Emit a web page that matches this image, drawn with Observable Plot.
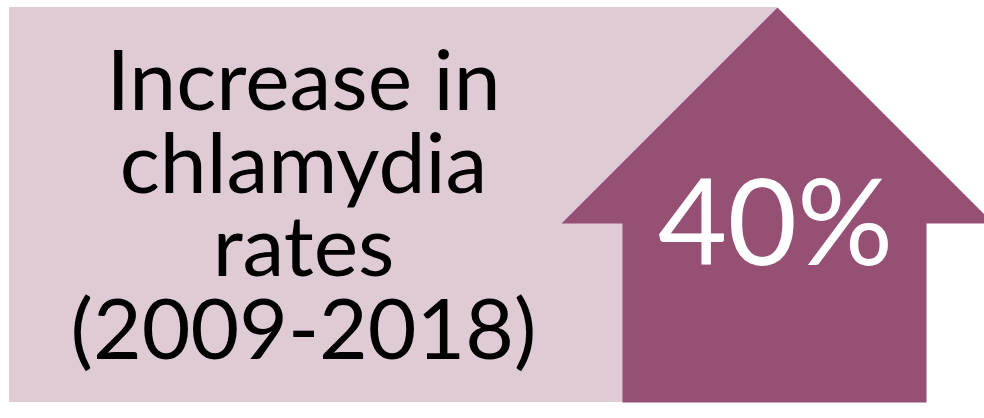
<!DOCTYPE html>
<html>
<head>
<meta charset="utf-8">
<script src="https://cdn.jsdelivr.net/npm/d3@7"></script>
<script src="https://cdn.jsdelivr.net/npm/@observablehq/plot@0.6"></script>
<style>
  html, body { margin: 0; padding: 0; background: #ffffff; }
  #chart svg { display: block; }
</style>
</head>
<body>
<div id="chart"></div>
<script>
// ---- data ----
const labelLines = ["Increase in", "chlamydia", "rates", "(2009-2018)"];
const increasePercent = 40;
const periodStart = 2009;
const periodEnd = 2018;

// ---- layout (pixels) ----
const W = 984, H = 418;
const panel = {x1: 9, x2: 777, y1: 7, y2: 402};
const arrow = {tipX: 777, tipY: 7, headY: 223, headHalf: 216, stemX1: 622, stemX2: 926, bottomY: 402};
const arrowPts = [
  [arrow.tipX, arrow.tipY],
  [arrow.tipX + arrow.headHalf, arrow.headY],
  [arrow.stemX2, arrow.headY],
  [arrow.stemX2, arrow.bottomY],
  [arrow.stemX1, arrow.bottomY],
  [arrow.stemX1, arrow.headY],
  [arrow.tipX - arrow.headHalf, arrow.headY],
  [arrow.tipX, arrow.tipY]
];
const textX = 303, firstBaseline = 109, lineStep = 83.3, labelSize = 84;

const chart = Plot.plot({
  width: W,
  height: H,
  margin: 0,
  x: {domain: [0, W], range: [0, W], axis: null},
  y: {domain: [0, H], range: [0, H], axis: null},
  style: {fontFamily: "Lato, 'Open Sans', sans-serif", background: "#ffffff"},
  marks: [
    Plot.rect([panel], {x1: "x1", x2: "x2", y1: "y1", y2: "y2", fill: "#dfcbd6"}),
    Plot.line(arrowPts, {x: d => d[0], y: d => d[1], fill: "#955073", stroke: "none", curve: "linear"}),
    Plot.text(labelLines, {
      x: () => textX,
      y: (d, i) => firstBaseline + i * lineStep,
      text: d => d,
      lineAnchor: "bottom",
      textAnchor: "middle",
      fontSize: labelSize,
      fill: "#000000",
      fontFamily: "Lato"
    }),
    Plot.text([increasePercent], {
      x: () => 775,
      y: () => 264,
      text: d => `${d}%`,
      lineAnchor: "bottom",
      textAnchor: "middle",
      fontSize: 120,
      fill: "#ffffff",
      fontFamily: "Lato"
    })
  ]
});
document.getElementById("chart").appendChild(chart);
</script>
</body>
</html>
